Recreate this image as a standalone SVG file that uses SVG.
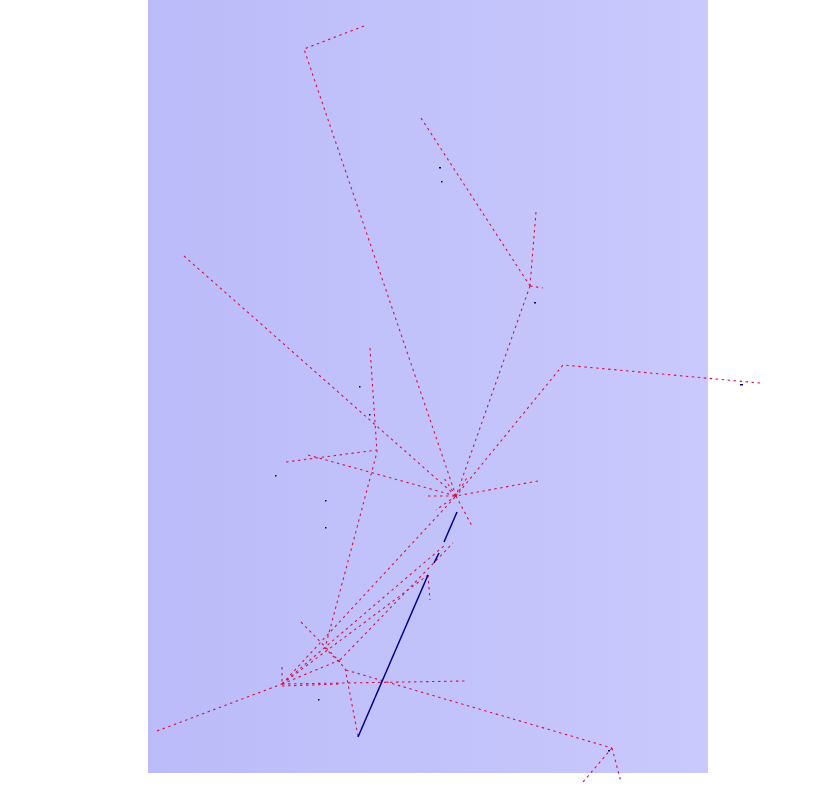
<svg xmlns="http://www.w3.org/2000/svg" width="832" height="798" viewBox="0 0 832 798">
<defs>
<linearGradient id="bg" x1="0" y1="0" x2="1" y2="0">
<stop offset="0" stop-color="#bbbbf9"/>
<stop offset="1" stop-color="#c9c9fd"/>
</linearGradient>
<style>
.r{fill:none;stroke:#d41448;stroke-width:1.1;stroke-dasharray:2.5 3.5}
.b{fill:none;stroke:#000088;stroke-width:1.5}
.d{fill:#000088}
</style>
</defs>
<rect x="0" y="0" width="832" height="798" fill="#ffffff"/>
<rect x="148" y="0" width="560" height="773" fill="url(#bg)"/>
<g id="connectors">
<polyline class="r" points="364,26 304,49 456,496"/>
<line class="r" x1="421" y1="118" x2="530" y2="286"/>
<line class="r" x1="536" y1="212" x2="530" y2="286"/>
<line class="r" x1="530" y1="286" x2="543" y2="288"/>
<line class="r" x1="530" y1="286" x2="456" y2="496"/>
<line class="r" x1="184" y1="256" x2="456" y2="496"/>
<polyline class="r" points="760,383 563,365 456,496"/>
<polyline class="r" points="370,348 377,452 325,648 345,668 358,736"/>
<line class="r" x1="286" y1="462" x2="377" y2="450"/>
<line class="r" x1="308" y1="455" x2="456" y2="496"/>
<line class="r" x1="538" y1="481" x2="456" y2="496"/>
<line class="r" x1="428" y1="496" x2="456" y2="496"/>
<line class="r" x1="456" y1="496" x2="472" y2="526"/>
<line class="r" x1="456" y1="496" x2="444" y2="478"/>
<line class="r" x1="456" y1="496" x2="468" y2="476"/>
<line class="r" x1="456" y1="496" x2="436" y2="510"/>
<line class="r" x1="282" y1="684" x2="456" y2="496"/>
<line class="r" x1="282" y1="684" x2="445" y2="545"/>
<line class="r" x1="282" y1="684" x2="428" y2="575"/>
<line class="r" x1="282" y1="684" x2="340" y2="660"/>
<line class="r" x1="282" y1="684" x2="466" y2="681"/>
<line class="r" x1="282" y1="686" x2="340" y2="684"/>
<line class="r" x1="282" y1="667" x2="282" y2="684"/>
<line class="r" x1="157" y1="731" x2="282" y2="684"/>
<line class="r" x1="301" y1="622" x2="340" y2="662"/>
<line class="r" x1="340" y1="660" x2="453" y2="543"/>
<line class="r" x1="428" y1="575" x2="430" y2="600"/>
<line class="r" x1="346" y1="670" x2="612" y2="748"/>
<line class="r" x1="612" y1="748" x2="621" y2="782"/>
<line class="r" x1="612" y1="748" x2="583" y2="782"/>
<line class="b" x1="457" y1="512" x2="444" y2="542"/>
<line class="b" x1="439" y1="553" x2="434" y2="563"/>
<line class="b" x1="428" y1="575" x2="358" y2="737"/>
</g>
<g id="dots">
<rect class="d" x="439" y="167" width="2" height="1.5"/>
<rect class="d" x="441" y="181" width="1.5" height="1.5"/>
<rect class="d" x="359" y="386" width="1.5" height="1.5"/>
<rect class="d" x="369" y="414" width="1.5" height="1.5"/>
<rect class="d" x="275" y="475" width="1.5" height="1.5"/>
<rect class="d" x="325" y="500" width="1.5" height="1.5"/>
<rect class="d" x="325" y="527" width="1.5" height="1.5"/>
<rect class="d" x="534" y="302" width="2" height="1.5"/>
<rect class="d" x="740" y="384" width="3" height="1.5"/>
<rect class="d" x="608" y="750" width="2" height="1.5"/>
<rect class="d" x="318" y="699" width="1.5" height="1.5"/>
</g>
</svg>
